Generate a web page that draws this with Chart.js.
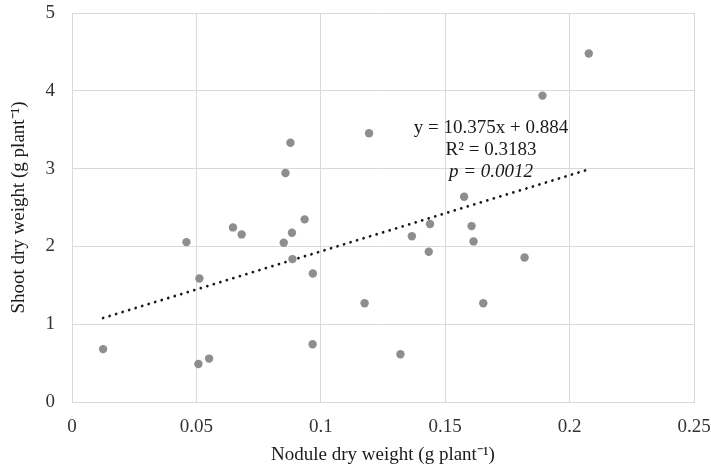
<!DOCTYPE html>
<html>
<head>
<meta charset="utf-8">
<script src="https://cdn.jsdelivr.net/npm/chart.js@4"></script>
<style>
  html, body { margin:0; padding:0; background:#fff; }
  #wrap { width:711px; height:466px; position:relative; }
</style>
</head>
<body>
<div id="wrap"><canvas id="ch-scatter"></canvas></div>
<script>
// nodule dry weight (g/plant) vs shoot dry weight (g/plant)
const noduleX = [0.0125, 0.046, 0.0512, 0.0508, 0.0551, 0.0682, 0.0647, 0.0878, 0.0858, 0.0935,
                 0.0884, 0.0851, 0.0886, 0.0968, 0.0967, 0.1194, 0.1891, 0.2077, 0.1576, 0.1439,
                 0.1606, 0.1366, 0.1614, 0.1434, 0.1819, 0.1176, 0.1653, 0.132];
const shootY  = [0.68, 2.055, 1.588, 0.489, 0.558, 2.154, 2.244, 3.333, 2.943, 2.347,
                 2.175, 2.046, 1.837, 1.652, 0.743, 3.454, 3.938, 4.479, 2.638, 2.287,
                 2.261, 2.13, 2.064, 1.931, 1.858, 1.27, 1.27, 0.614];
// linear trendline end points, as drawn
const trendX = [0.0125, 0.2077];
const trendY = [1.08, 2.99];
const xTicks = [0, 0.05, 0.1, 0.15, 0.2, 0.25];
const yTicks = [0, 1, 2, 3, 4, 5];
const annotation = ['y = 10.375x + 0.884', 'R² = 0.3183', 'p = 0.0012'];

const SERIF = '"Liberation Serif", "Times New Roman", serif';
const GRID = '#d9d9d9';
const FS = 19;

const labelPlugin = {
  id: 'trendLabel',
  afterDatasetsDraw(chart) {
    const ctx = chart.ctx;
    ctx.save();
    ctx.fillStyle = '#1a1a1a';
    ctx.textAlign = 'center';
    ctx.textBaseline = 'middle';
    ctx.font = FS + 'px ' + SERIF;
    ctx.fillText(annotation[0], 491, 128);
    ctx.fillText(annotation[1], 491, 150);
    ctx.font = 'italic ' + FS + 'px ' + SERIF;
    ctx.fillText(annotation[2], 491, 172);
    ctx.restore();
  }
};

new Chart(document.getElementById('ch-scatter').getContext('2d'), {
  type: 'scatter',
  data: {
    datasets: [
      {
        label: 'Shoot',
        data: noduleX.map((x, i) => ({ x, y: shootY[i] })),
        backgroundColor: '#8e8e92', borderWidth: 0,
        pointRadius: 4.2, pointHoverRadius: 4.2,
      },
      {
        label: 'Trend',
        data: trendX.map((x, i) => ({ x, y: trendY[i] })),
        showLine: true, pointRadius: 0,
        borderColor: '#1a1a1a', borderWidth: 2.8,
        borderDash: [0.01, 6.8], borderCapStyle: 'round',
      },
    ]
  },
  options: {
    responsive: true, maintainAspectRatio: false, animation: false,
    layout: { padding: { left: 0, right: 17, top: 13, bottom: 0 } },
    plugins: { legend: { display: false }, tooltip: { enabled: false } },
    scales: {
      x: {
        type: 'linear', min: 0, max: 0.25,
        afterBuildTicks: s => { s.ticks = xTicks.map(v => ({ value: v })); },
        afterFit: s => { s.height = 64; s.paddingLeft = 0; s.paddingRight = 0; },
        grid: { color: GRID, lineWidth: 1, drawTicks: false },
        border: { color: GRID, width: 1 },
        ticks: { color: '#333', padding: 14, font: { family: SERIF, size: FS }, maxRotation: 0,
                 callback: v => String(v) },
        title: { display: true, text: 'Nodule dry weight (g plant⁻¹)', color: '#1a1a1a',
                 font: { family: SERIF, size: FS }, padding: { top: 2, bottom: 0 } },
      },
      y: {
        type: 'linear', min: 0, max: 5,
        afterBuildTicks: s => { s.ticks = yTicks.map(v => ({ value: v })); },
        afterFit: s => { s.width = 72; s.paddingTop = 0; s.paddingBottom = 0; },
        grid: { color: GRID, lineWidth: 1, drawTicks: false },
        border: { color: GRID, width: 1 },
        ticks: { color: '#333', padding: 17, font: { family: SERIF, size: FS } },
        title: { display: true, text: 'Shoot dry weight (g plant⁻¹)', color: '#1a1a1a',
                 font: { family: SERIF, size: FS }, padding: { top: 8, bottom: 0 } },
      },
    }
  },
  plugins: [labelPlugin]
});
</script>
</body>
</html>
